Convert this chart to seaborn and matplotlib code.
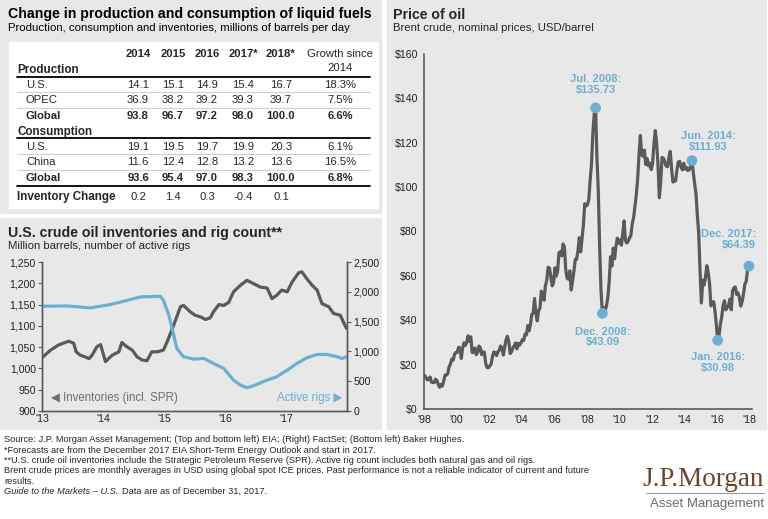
import numpy as np
import pandas as pd
import seaborn as sns
import matplotlib.pyplot as plt
from matplotlib.patches import Rectangle
from matplotlib.lines import Line2D
from matplotlib.ticker import FuncFormatter

W, H = 768, 519

# ---- table data (millions of barrels per day) ----
table_years = ['2014', '2015', '2016', '2017*', '2018*']
prod_us = [14.1, 15.1, 14.9, 15.4, 16.7]
prod_opec = [36.9, 38.2, 39.2, 39.3, 39.7]
prod_global = [93.8, 96.7, 97.2, 98.0, 100.0]
cons_us = [19.1, 19.5, 19.7, 19.9, 20.3]
cons_china = [11.6, 12.4, 12.8, 13.2, 13.6]
cons_global = [93.6, 95.4, 97.0, 98.3, 100.0]
inventory_change = [0.2, 1.4, 0.3, -0.4, 0.1]
growth = ['18.3%', '7.5%', '6.6%', '6.1%', '16.5%', '6.8%']

# ---- U.S. inventories (million barrels) and rig count ----
inv_dates = [2013.00, 2013.14, 2013.27, 2013.38, 2013.44, 2013.52, 2013.56, 2013.63,
             2013.71, 2013.77, 2013.82, 2013.90, 2013.96, 2014.04, 2014.15, 2014.26,
             2014.31, 2014.39, 2014.48, 2014.56, 2014.64, 2014.72, 2014.80, 2014.89,
             2014.99, 2015.05, 2015.16, 2015.27, 2015.32, 2015.43, 2015.51, 2015.60,
             2015.68, 2015.76, 2015.81, 2015.90, 2015.98, 2016.06, 2016.14, 2016.25,
             2016.36, 2016.47, 2016.58, 2016.69, 2016.77, 2016.85, 2016.93, 2017.02,
             2017.10, 2017.21, 2017.26, 2017.34, 2017.43, 2017.51, 2017.59, 2017.70,
             2017.78, 2017.89, 2017.99]
inventories = [1025, 1043, 1055, 1061, 1064, 1059, 1039, 1031,
               1027, 1023, 1031, 1051, 1056, 1016, 1031, 1039,
               1061, 1051, 1043, 1027, 1020, 1018, 1039, 1039,
               1043, 1062, 1102, 1145, 1148, 1133, 1125, 1121,
               1115, 1119, 1133, 1150, 1148, 1155, 1180, 1195,
               1207, 1199, 1191, 1189, 1164, 1172, 1184, 1180,
               1203, 1225, 1227, 1211, 1195, 1184, 1152, 1145,
               1129, 1125, 1094]
rig_dates = [2013.00, 2013.41, 2013.79, 2014.12, 2014.34, 2014.61, 2014.94, 2014.99,
             2015.08, 2015.16, 2015.21, 2015.32, 2015.49, 2015.65, 2015.81, 2015.98,
             2016.14, 2016.25, 2016.36, 2016.47, 2016.69, 2016.85, 2017.02, 2017.18,
             2017.34, 2017.51, 2017.67, 2017.84, 2017.92, 2017.99]
rigs = [1758, 1763, 1730, 1786, 1841, 1914, 1925, 1858,
        1607, 1272, 1049, 910, 870, 882, 798, 714,
        519, 435, 391, 424, 519, 575, 686, 798,
        893, 949, 949, 910, 882, 910]

# ---- Brent crude, monthly averages, Jan 1998 - Dec 2017 ----
brent = [
    15.1, 14.1, 13.1, 13.4, 14.4, 12.1, 12.0, 11.9, 13.4, 12.9, 11.0, 9.8,
    11.1, 10.3, 12.5, 15.3, 15.3, 15.9, 19.0, 20.3, 22.5, 22.0, 24.6, 25.5,
    25.5, 27.8, 27.5, 22.8, 27.6, 29.8, 28.7, 30.0, 33.0, 30.6, 32.5, 25.5,
    25.6, 27.5, 24.5, 25.5, 28.4, 27.7, 24.5, 25.7, 25.6, 20.5, 18.7, 18.6,
    19.4, 20.3, 23.7, 25.7, 25.4, 24.1, 25.7, 26.6, 28.4, 27.5, 24.3, 28.0,
    31.2, 32.8, 30.3, 25.0, 25.8, 27.6, 28.4, 29.8, 27.1, 29.6, 28.8, 29.8,
    31.3, 30.9, 33.8, 33.4, 37.6, 35.2, 38.2, 42.7, 43.2, 49.8, 43.1, 39.7,
    44.3, 45.6, 53.1, 51.9, 49.0, 55.6, 57.9, 63.9, 63.5, 59.8, 55.5, 56.8,
    63.6, 59.9, 62.3, 70.4, 70.9, 69.0, 74.4, 73.1, 62.7, 58.9, 58.5, 62.3,
    53.6, 57.6, 62.1, 67.4, 67.5, 71.3, 77.2, 70.8, 77.1, 82.9, 92.5, 91.5,
    92.0, 94.5, 103.3, 110.4, 124.6, 133.0, 135.73, 113.0, 98.1, 72.8, 53.2, 43.09,
    45.6, 44.3, 46.5, 50.2, 57.3, 68.6, 64.4, 72.5, 67.7, 73.2, 77.0, 74.7,
    76.2, 73.8, 78.8, 84.8, 75.9, 74.8, 75.6, 77.1, 78.2, 83.5, 86.1, 91.4,
    96.5, 103.7, 114.6, 123.3, 114.5, 113.9, 116.7, 110.2, 112.8, 109.6, 110.8, 107.9,
    110.7, 119.3, 125.5, 119.8, 110.3, 95.2, 102.6, 113.4, 113.0, 111.5, 109.5, 109.2,
    113.0, 116.1, 108.5, 102.3, 102.6, 102.9, 107.9, 111.3, 111.6, 109.1, 107.8, 110.8,
    108.1, 108.9, 107.5, 107.8, 109.5, 111.93, 106.8, 101.6, 97.1, 87.4, 79.4, 62.3,
    47.8, 58.1, 55.9, 59.5, 64.6, 61.5, 56.6, 46.5, 47.6, 48.4, 44.3, 38.0,
    30.98, 33.2, 38.2, 41.6, 46.7, 48.8, 44.7, 45.8, 46.6, 49.5, 44.7, 53.3,
    54.6, 55.0, 51.6, 52.3, 50.3, 46.4, 48.5, 51.7, 56.2, 57.5, 62.7, 64.39,
]
hl_labels = ['Jul. 2008:\n$135.73', 'Dec. 2008:\n$43.09', 'Jun. 2014:\n$111.93',
             'Jan. 2016:\n$30.98', 'Dec. 2017:\n$64.39']
hl_month = [126, 131, 197, 216, 239]  # index into brent

GRAY_BG = '#e8e8e8'
LINE = '#5a5a5a'
BLUE = '#6bb0d3'

sns.set_theme(style='white')
plt.rcParams['font.family'] = ['Liberation Sans', 'DejaVu Sans']
plt.rcParams['axes.edgecolor'] = LINE
plt.rcParams['xtick.color'] = LINE
plt.rcParams['ytick.color'] = LINE
plt.rcParams['xtick.labelcolor'] = '#222222'
plt.rcParams['ytick.labelcolor'] = '#222222'

fig = plt.figure(figsize=(W / 100, H / 100), dpi=100)
fig.patch.set_facecolor('white')


def box(x0, y0, x1, y1, color):
    fig.patches.append(Rectangle((x0 / W, 1 - y1 / H), (x1 - x0) / W, (y1 - y0) / H,
                                 transform=fig.transFigure, color=color, zorder=-10))


def txt(x, y, s, **kw):
    kw.setdefault('va', 'center')
    return fig.text(x / W, 1 - y / H, s, **kw)


def hline(x0, x1, y, color='black', lw=1.0):
    fig.lines.append(Line2D([x0 / W, x1 / W], [1 - y / H, 1 - y / H],
                            transform=fig.transFigure, color=color, lw=lw, zorder=5))


# panel backgrounds
box(0, 0, 381, 213, GRAY_BG)
box(0, 218, 381, 429, GRAY_BG)
box(387, 0, 766, 429, GRAY_BG)
box(9, 42, 378, 208, 'white')

# ---- top left: table ----
txt(8, 14, 'Change in production and consumption of liquid fuels', fontsize=10.2,
    fontweight='bold', color='black')
txt(8, 28, 'Production, consumption and inventories, millions of barrels per day',
    fontsize=8.2, color='black')

col_x = [138, 173, 207, 243, 281]
growth_x = 340
fs = 8.1
for cx, yr in zip(col_x, table_years):
    txt(cx, 54, yr, ha='center', fontsize=fs, fontweight='bold')
txt(growth_x, 54, 'Growth since', ha='center', fontsize=fs)
txt(growth_x, 68, '2014', ha='center', fontsize=fs)
txt(17, 70, 'Production', fontsize=fs + 0.3, fontweight='bold')
txt(17, 132, 'Consumption', fontsize=fs + 0.3, fontweight='bold')
hline(17, 370, 77, lw=1.3)
hline(17, 370, 138, lw=1.3)
hline(17, 370, 186, lw=1.3)
hline(17, 370, 92, color='#d0d0d0', lw=0.8)
hline(17, 370, 108, color='#d0d0d0', lw=0.8)
hline(17, 370, 154, color='#d0d0d0', lw=0.8)
hline(17, 370, 170, color='#d0d0d0', lw=0.8)

rows = [('U.S.', prod_us, 85, 'normal', growth[0]),
        ('OPEC', prod_opec, 100, 'normal', growth[1]),
        ('Global', prod_global, 116, 'bold', growth[2]),
        ('U.S.', cons_us, 147, 'normal', growth[3]),
        ('China', cons_china, 162, 'normal', growth[4]),
        ('Global', cons_global, 178, 'bold', growth[5])]
for label, vals, y, wt, g in rows:
    txt(26, y, label, fontsize=fs, fontweight=wt)
    for cx, v in zip(col_x, vals):
        txt(cx, y, f'{v:.1f}', ha='center', fontsize=fs, fontweight=wt)
    txt(growth_x, y, g, ha='center', fontsize=fs, fontweight=wt)
txt(17, 197, 'Inventory Change', fontsize=fs + 0.3, fontweight='bold')
for cx, v in zip(col_x, inventory_change):
    txt(cx, 197, f'{v:.1f}', ha='center', fontsize=fs)

# ---- bottom left: inventories and rigs ----
txt(8, 233, 'U.S. crude oil inventories and rig count**', fontsize=10.2,
    fontweight='bold')
txt(8, 246, 'Million barrels, number of active rigs', fontsize=8.2)

ax1 = fig.add_axes([42 / W, 1 - 411 / H, (347 - 42) / W, (411 - 262) / H])
ax1.set_facecolor('none')
df_inv = pd.DataFrame({'date': inv_dates, 'inv': inventories})
df_rig = pd.DataFrame({'date': rig_dates, 'rigs': rigs})
sns.lineplot(data=df_inv, x='date', y='inv', ax=ax1, color=LINE, lw=2.3)
ax1.set_xlim(2013, 2018)
ax1.set_ylim(900, 1250)
ax1.set_yticks(range(900, 1251, 50))
ax1.yaxis.set_major_formatter(FuncFormatter(lambda v, p: f'{int(v):,}'))
ax1.set_xticks([2013, 2014, 2015, 2016, 2017])
ax1.set_xticklabels(["'13", "'14", "'15", "'16", "'17"])
ax2 = ax1.twinx()
sns.lineplot(data=df_rig, x='date', y='rigs', ax=ax2, color=BLUE, lw=2.3)
ax2.set_ylim(0, 2500)
ax2.set_yticks(range(0, 2501, 500))
ax2.yaxis.set_major_formatter(FuncFormatter(lambda v, p: f'{int(v):,}'))
for a in (ax1, ax2):
    a.set_xlabel('')
    a.set_ylabel('')
    a.set_facecolor('none')
    a.spines['top'].set_visible(False)
    for s in a.spines.values():
        s.set_linewidth(1.0)
    a.tick_params(labelsize=7.6, length=3, width=0.8, pad=1.5)
ax1.tick_params(axis='x', direction='in', length=3, pad=2)
ax1.tick_params(axis='y', direction='out')
ax1.text(0.03, 0.09, '\u25c0 Inventories (incl. SPR)', transform=ax1.transAxes,
         fontsize=8.3, color='#6e6e6e', va='center')
ax1.text(0.985, 0.09, 'Active rigs \u25b6', transform=ax1.transAxes,
         fontsize=8.3, color=BLUE, va='center', ha='right')

# ---- right: price of oil ----
txt(393, 15, 'Price of oil', fontsize=10.2, fontweight='bold')
txt(393, 28, 'Brent crude, nominal prices, USD/barrel', fontsize=8.2)

ax3 = fig.add_axes([424 / W, 1 - 409 / H, (752 - 424) / W, (409 - 54) / H])
ax3.set_facecolor('none')
df_price = pd.DataFrame({'date': 1998 + (np.arange(len(brent)) + 0.5) / 12,
                         'price': brent})
sns.lineplot(data=df_price, x='date', y='price', ax=ax3, color=LINE, lw=2.3)
df_hl = df_price.iloc[hl_month]
sns.scatterplot(data=df_hl, x='date', y='price', ax=ax3, color=BLUE, s=60,
                edgecolor='none', zorder=5, clip_on=False)
offsets = [(0, 17, 'center'), (0, -17, 'center'), (12, 14, 'center'),
           (0, -16, 'center'), (5, 19, 'right')]
for (x, y), lab, (dx, dy, ha) in zip(df_hl[['date', 'price']].values, hl_labels, offsets):
    ax3.annotate(lab, (x, y), xytext=(dx, dy), textcoords='offset points',
                 ha=ha, va='center', fontsize=8, fontweight='bold', color=BLUE,
                 linespacing=1.1, multialignment=ha)
ax3.set_xlim(1998, 2018.15)
ax3.set_ylim(0, 160)
ax3.set_yticks(range(0, 161, 20))
ax3.yaxis.set_major_formatter(FuncFormatter(lambda v, p: f'${int(v)}'))
ax3.set_xticks(range(1998, 2019, 2))
ax3.set_xticklabels([f"'{y % 100:02d}" for y in range(1998, 2019, 2)])
ax3.set_xlabel('')
ax3.set_ylabel('')
ax3.spines['top'].set_visible(False)
ax3.spines['right'].set_visible(False)
for s in ax3.spines.values():
    s.set_linewidth(1.2)
ax3.tick_params(labelsize=7.6, length=3, width=0.8, pad=1.5, direction='out')

# ---- footer ----
foot = ['Source: J.P. Morgan Asset Management; (Top and bottom left) EIA; (Right) FactSet; (Bottom left) Baker Hughes.',
        '*Forecasts are from the December 2017 EIA Short-Term Energy Outlook and start in 2017.',
        '**U.S. crude oil inventories include the Strategic Petroleum Reserve (SPR). Active rig count includes both natural gas and oil rigs.',
        'Brent crude prices are monthly averages in USD using global spot ICE prices. Past performance is not a reliable indicator of current and future',
        'results.']
ffam = ['Liberation Sans Narrow', 'Liberation Sans', 'DejaVu Sans']
for i, line in enumerate(foot):
    txt(4, 440 + i * 10.3, line, fontsize=6.7, family=ffam)
guide = txt(4, 491.5, 'Guide to the Markets \u2013 U.S.', fontsize=6.7, family=ffam,
            style='italic')
fig.canvas.draw()
gx1 = guide.get_window_extent().x1
txt(gx1 + 3, 491.5, 'Data are as of December 31, 2017.', fontsize=6.7, family=ffam)

txt(764, 479, 'J.P.Morgan', ha='right', fontsize=19.5, color='#6b4530',
    family=['Liberation Serif', 'DejaVu Serif'])
hline(646, 764, 493, color='#9a9a9a', lw=0.8)
txt(764, 504, 'Asset Management', ha='right', fontsize=9.5, color='#6d6d6d', family=ffam)

fig.savefig('out.png', dpi=100)
